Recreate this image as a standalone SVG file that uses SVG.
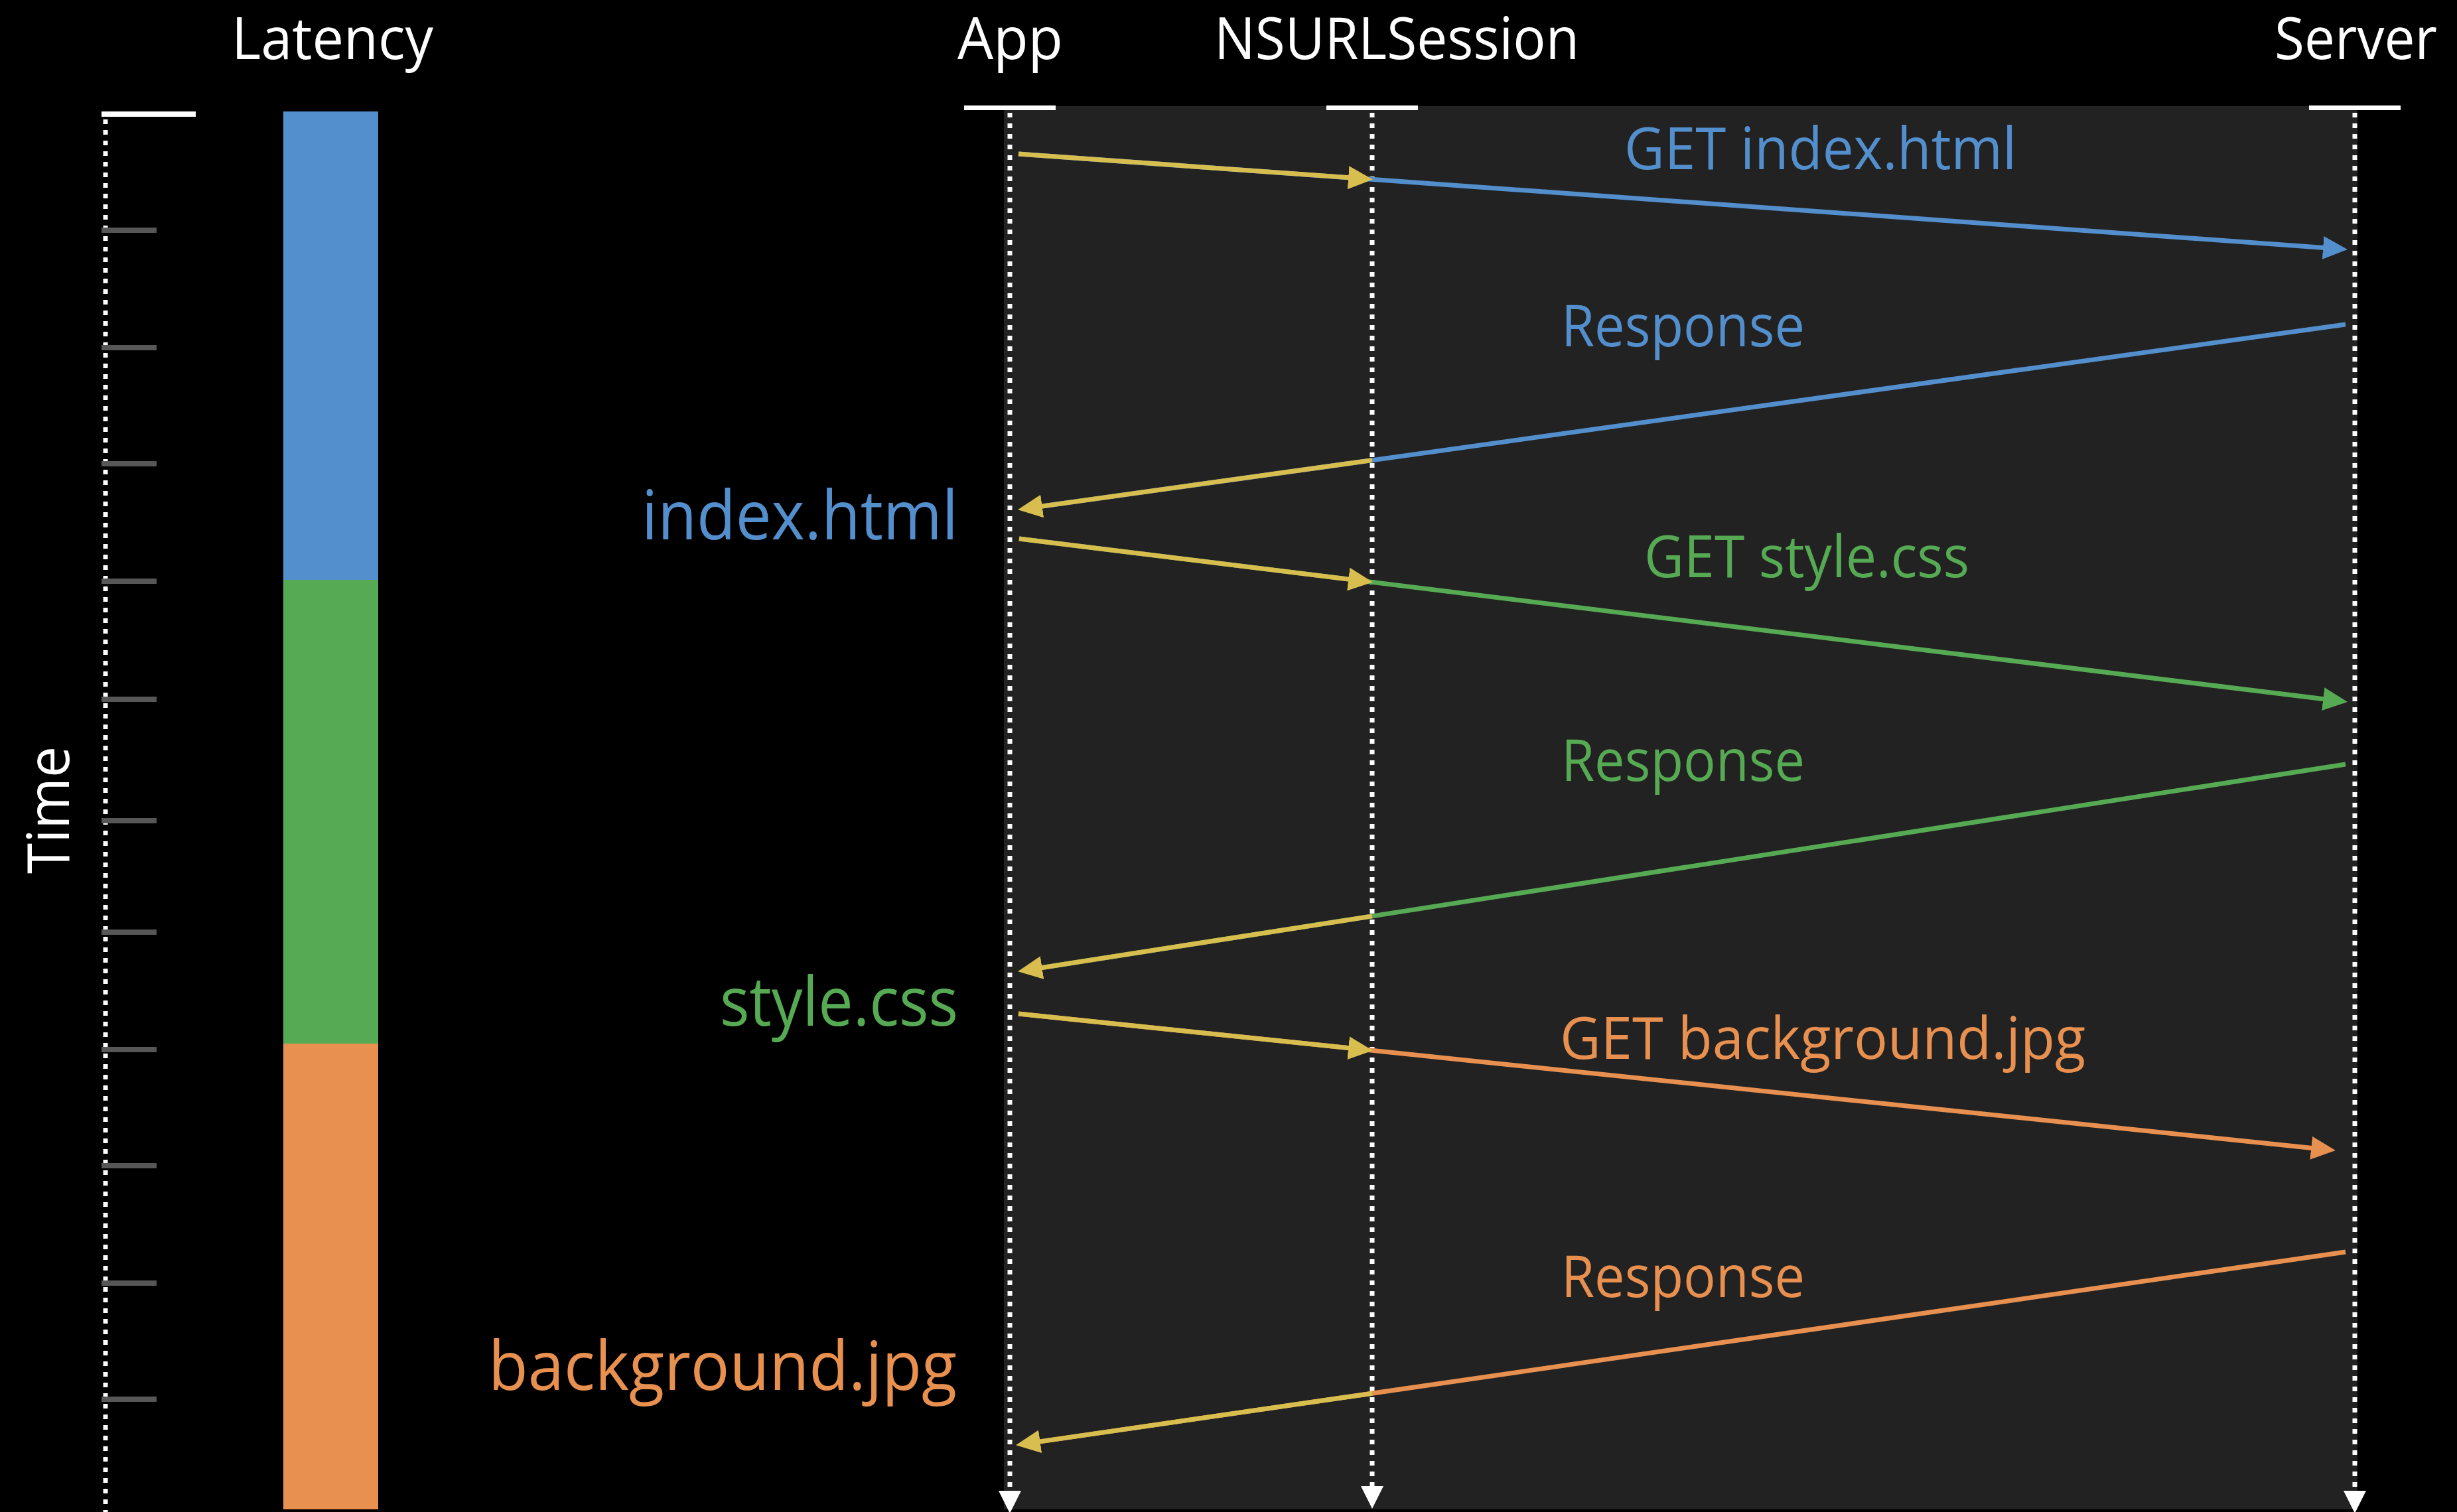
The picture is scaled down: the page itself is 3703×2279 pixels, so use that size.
<svg xmlns="http://www.w3.org/2000/svg" width="3703" height="2279" viewBox="0 0 3703 2279">
  <style>
    .t { font-family: "Open Sans", "Noto Sans", sans-serif; font-size: 88px; fill: #ffffff; }
    .big { font-family: "Open Sans", "Noto Sans", sans-serif; font-size: 102px; text-anchor: end; }
    .blue { fill: #548FCD; }
    .green { fill: #57AA54; }
    .orange { fill: #E8904F; }
    .dots { stroke: #ffffff; stroke-width: 7; stroke-dasharray: 7 9; fill: none; }
    .bar { fill: #ffffff; }
    .tick { fill: #575757; }
    .head { fill: #ffffff; }
    .msg { fill: none; stroke-width: 7; }
    .sb { stroke: #548FCD; }
    .sg { stroke: #57AA54; }
    .so { stroke: #E8904F; }
    .sy { stroke: #D8BE4E; }
  </style>
  <defs>
    <marker id="ab" markerUnits="userSpaceOnUse" markerWidth="37" markerHeight="35" refX="16" refY="17.5" orient="auto">
      <path d="M0,0 L37,17.5 L0,35 z" fill="#548FCD"/>
    </marker>
    <marker id="ag" markerUnits="userSpaceOnUse" markerWidth="37" markerHeight="35" refX="16" refY="17.5" orient="auto">
      <path d="M0,0 L37,17.5 L0,35 z" fill="#57AA54"/>
    </marker>
    <marker id="ao" markerUnits="userSpaceOnUse" markerWidth="37" markerHeight="35" refX="16" refY="17.5" orient="auto">
      <path d="M0,0 L37,17.5 L0,35 z" fill="#E8904F"/>
    </marker>
    <marker id="ay" markerUnits="userSpaceOnUse" markerWidth="37" markerHeight="35" refX="16" refY="17.5" orient="auto">
      <path d="M0,0 L37,17.5 L0,35 z" fill="#D8BE4E"/>
    </marker>
  </defs>

  <rect x="0" y="0" width="3703" height="2279" fill="#000000"/>
  <rect id="panel" x="1513" y="160" width="2040" height="2115" fill="#222222"/>

  <g id="time-axis">
    <rect class="bar" x="153" y="168" width="142" height="8"/>
    <line class="dots" x1="159" y1="180" x2="159" y2="2279"/>
    <rect class="tick" x="153" y="343" width="83" height="8"/>
    <rect class="tick" x="153" y="520" width="83" height="8"/>
    <rect class="tick" x="153" y="695" width="83" height="8"/>
    <rect class="tick" x="153" y="872" width="83" height="8"/>
    <rect class="tick" x="153" y="1050" width="83" height="8"/>
    <rect class="tick" x="153" y="1233" width="83" height="8"/>
    <rect class="tick" x="153" y="1401" width="83" height="8"/>
    <rect class="tick" x="153" y="1578" width="83" height="8"/>
    <rect class="tick" x="153" y="1753" width="83" height="8"/>
    <rect class="tick" x="153" y="1930" width="83" height="8"/>
    <rect class="tick" x="153" y="2105" width="83" height="8"/>
    <text class="t" transform="translate(104,1317) rotate(-90)" x="0" y="0" textLength="192" lengthAdjust="spacingAndGlyphs">Time</text>
  </g>

  <g id="latency">
    <text class="t" x="349" y="89" textLength="304" lengthAdjust="spacingAndGlyphs">Latency</text>
    <rect x="427" y="168" width="143" height="706" fill="#548FCD"/>
    <rect x="427" y="874" width="143" height="699" fill="#57AA54"/>
    <rect x="427" y="1573" width="143" height="702" fill="#E8904F"/>
  </g>

  <g id="lifeline-app">
    <text class="t" x="1443" y="89" textLength="159" lengthAdjust="spacingAndGlyphs">App</text>
    <rect class="bar" x="1453" y="159" width="138" height="7"/>
    <line class="dots" x1="1522" y1="170" x2="1522" y2="2247"/>
    <path class="head" d="M1505,2247 L1539,2247 L1522,2281 z"/>
  </g>

  <g id="lifeline-nsurlsession">
    <text class="t" x="1830" y="89" textLength="550" lengthAdjust="spacingAndGlyphs">NSURLSession</text>
    <rect class="bar" x="1999" y="159" width="138" height="7"/>
    <line class="dots" x1="2068" y1="170" x2="2068" y2="2240"/>
    <path class="head" d="M2051,2240 L2085,2240 L2068,2274 z"/>
  </g>

  <g id="lifeline-server">
    <text class="t" x="3428" y="89" textLength="245" lengthAdjust="spacingAndGlyphs">Server</text>
    <rect class="bar" x="3480" y="159" width="138" height="7"/>
    <line class="dots" x1="3549" y1="170" x2="3549" y2="2247"/>
    <path class="head" d="M3532,2247 L3566,2247 L3549,2281 z"/>
  </g>

  <g id="resource-labels">
    <text class="big blue" x="1444" y="813" textLength="477" lengthAdjust="spacingAndGlyphs">index.html</text>
    <text class="big green" x="1444" y="1546" textLength="359" lengthAdjust="spacingAndGlyphs">style.css</text>
    <text class="big orange" x="1442" y="2095" textLength="706" lengthAdjust="spacingAndGlyphs">background.jpg</text>
  </g>

  <g id="connectors">
    <!-- GET index.html -->
    <line class="msg sb" x1="1535" y1="232" x2="3517.05" y2="374.57" marker-end="url(#ab)"/>
    <line class="msg sy" x1="1535" y1="232" x2="2048.05" y2="268.87" marker-end="url(#ay)"/>
    <!-- Response (index.html) -->
    <line class="msg sb" x1="3535" y1="489" x2="1554.81" y2="765.24"/>
    <line class="msg sy" x1="2068" y1="693.6" x2="1554.81" y2="765.24" marker-end="url(#ay)"/>
    <!-- GET style.css -->
    <line class="msg sg" x1="1536" y1="812" x2="3517.15" y2="1055.56" marker-end="url(#ag)"/>
    <line class="msg sy" x1="1536" y1="812" x2="2048.15" y2="874.96" marker-end="url(#ay)"/>
    <!-- Response (style.css) -->
    <line class="msg sg" x1="3535" y1="1152" x2="1554.76" y2="1460.92"/>
    <line class="msg sy" x1="2068" y1="1380.9" x2="1554.76" y2="1460.92" marker-end="url(#ay)"/>
    <!-- GET background.jpg -->
    <line class="msg so" x1="1535" y1="1528" x2="3499.11" y2="1731.93" marker-end="url(#ao)"/>
    <line class="msg sy" x1="1535" y1="1528" x2="2048.11" y2="1581.23" marker-end="url(#ay)"/>
    <!-- Response (background.jpg) -->
    <line class="msg so" x1="3535" y1="1887" x2="1551.79" y2="2175.12"/>
    <line class="msg sy" x1="2068" y1="2100.2" x2="1551.79" y2="2175.12" marker-end="url(#ay)"/>
  </g>

  <g id="message-labels">
    <text class="t blue" x="2448" y="255" textLength="591" lengthAdjust="spacingAndGlyphs">GET index.html</text>
    <text class="t blue" x="2353" y="522" textLength="367" lengthAdjust="spacingAndGlyphs">Response</text>
    <text class="t green" x="2478" y="870" textLength="490" lengthAdjust="spacingAndGlyphs">GET style.css</text>
    <text class="t green" x="2353" y="1177" textLength="367" lengthAdjust="spacingAndGlyphs">Response</text>
    <text class="t orange" x="2351" y="1596" textLength="792" lengthAdjust="spacingAndGlyphs">GET background.jpg</text>
    <text class="t orange" x="2353" y="1955" textLength="367" lengthAdjust="spacingAndGlyphs">Response</text>
  </g>
</svg>
